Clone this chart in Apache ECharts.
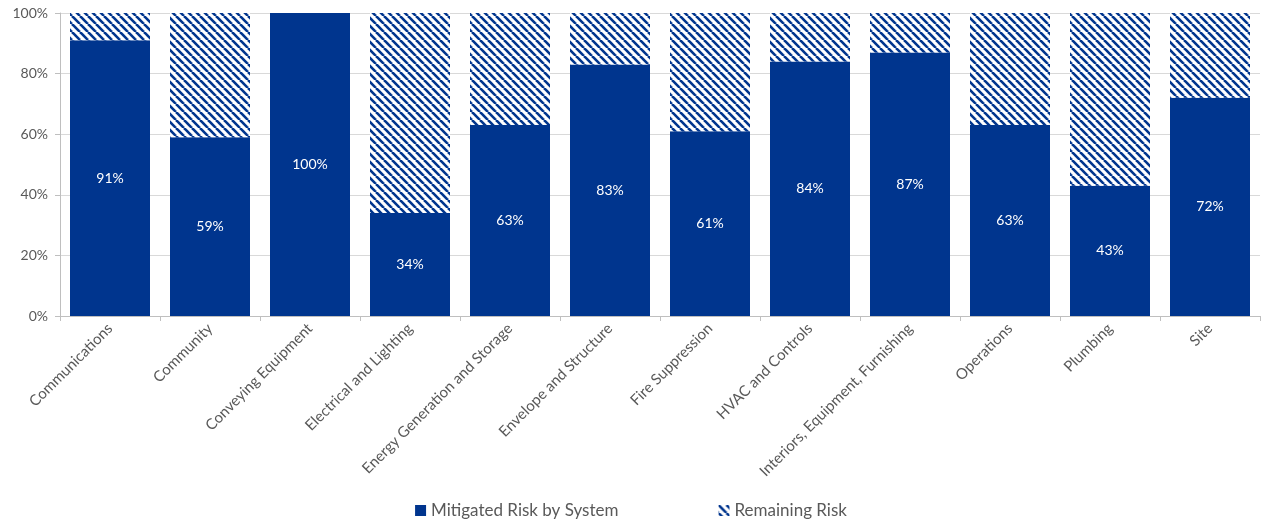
<!DOCTYPE html>
<html>
<head>
<meta charset="utf-8">
<script src="https://cdn.jsdelivr.net/npm/echarts@6/dist/echarts.min.js"></script>
<style>
  html, body { margin: 0; padding: 0; background: #fff; }
  #main { width: 1262px; height: 527px; }
</style>
</head>
<body>
<div id="main"></div>
<script>
var categories = ['Communications', 'Community', 'Conveying Equipment', 'Electrical and Lighting',
    'Energy Generation and Storage', 'Envelope and Structure', 'Fire Suppression', 'HVAC and Controls',
    'Interiors, Equipment, Furnishing', 'Operations', 'Plumbing', 'Site'];
var mitigated = [91, 59, 100, 34, 63, 83, 61, 84, 87, 63, 43, 72];
var remaining = [9, 41, 0, 66, 37, 17, 39, 16, 13, 37, 57, 28];

var blue = '#00358E';

// diagonal hatch for the remaining risk
var hatch = document.createElement('canvas');
hatch.width = 8;
hatch.height = 8;
var ctx = hatch.getContext('2d');
ctx.fillStyle = '#fff';
ctx.fillRect(0, 0, 8, 8);
ctx.strokeStyle = blue;
ctx.lineWidth = 2.6;
[-8, 0, 8].forEach(function (k) {
    ctx.beginPath();
    ctx.moveTo(k, 0);
    ctx.lineTo(k + 8, 8);
    ctx.stroke();
});

var myChart = echarts.init(document.getElementById('main'));
var font = 'Lato, "Open Sans", sans-serif';

var option = {
    animation: false,
    textStyle: { fontFamily: font },
    grid: { left: 60, right: 2, top: 13, bottom: 211 },
    legend: {
        bottom: 3,
        itemGap: 100,
        itemWidth: 11,
        itemHeight: 11,
        textStyle: { fontSize: 17, color: '#595959', fontFamily: font },
        data: [
            { name: 'Mitigated Risk by System', icon: 'rect' },
            { name: 'Remaining Risk', icon: 'rect' }
        ]
    },
    xAxis: {
        type: 'category',
        data: categories,
        axisLine: { lineStyle: { color: '#bfbfbf' } },
        axisTick: { show: true, length: 5, lineStyle: { color: '#bfbfbf' } },
        axisLabel: { rotate: 45, fontSize: 15, color: '#595959', margin: 10, interval: 0 }
    },
    yAxis: {
        type: 'value',
        min: 0,
        max: 100,
        interval: 20,
        axisLine: { show: true, lineStyle: { color: '#bfbfbf' } },
        axisTick: { show: true, length: 5, lineStyle: { color: '#bfbfbf' } },
        axisLabel: { formatter: '{value}%', fontSize: 14, color: '#595959', margin: 12 },
        splitLine: { lineStyle: { color: '#d9d9d9' } }
    },
    series: [
        {
            name: 'Mitigated Risk by System',
            type: 'bar',
            stack: 'risk',
            barCategoryGap: '20%',
            data: mitigated,
            itemStyle: { color: blue },
            label: {
                show: true,
                position: 'inside',
                formatter: '{c}%',
                color: '#fff',
                fontSize: 14,
                fontFamily: font
            }
        },
        {
            name: 'Remaining Risk',
            type: 'bar',
            stack: 'risk',
            data: remaining,
            itemStyle: { color: { image: hatch, repeat: 'repeat' } }
        }
    ]
};

myChart.setOption(option);
</script>
</body>
</html>
